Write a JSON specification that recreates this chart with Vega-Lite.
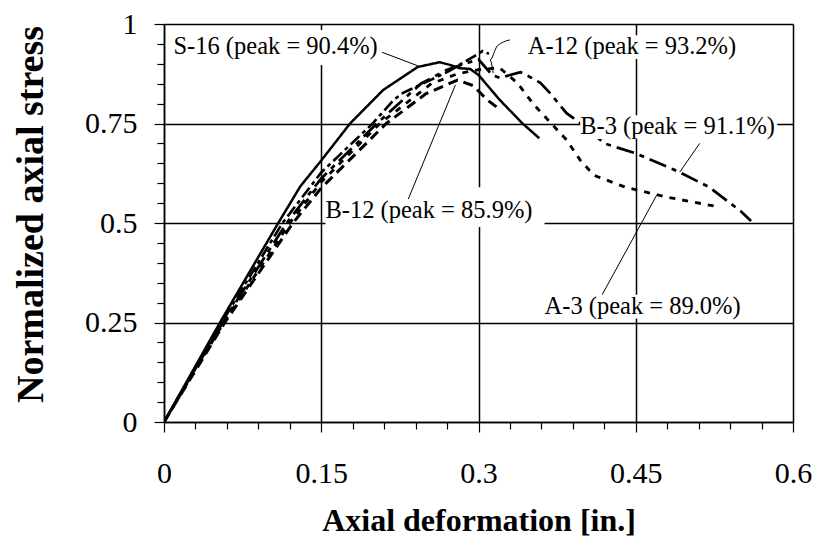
{
  "$schema": "https://vega.github.io/schema/vega-lite/v6.json",
  "autosize": {"type": "none"},
  "padding": {"left": 164, "top": 24, "right": 24, "bottom": 130},
  "width": 629,
  "height": 398,
  "background": "white",
  "config": {
    "view": {"stroke": null},
    "font": "Liberation Serif",
    "axis": {"domainColor": "black", "domainWidth": 1.5, "tickColor": "black", "tickWidth": 1.2, "gridColor": "black", "gridWidth": 1.5, "labelFont": "Liberation Serif", "labelFontSize": 30, "labelColor": "black", "titleFont": "Liberation Serif", "titleFontWeight": "bold", "titleColor": "black"}
  },
  "datasets": {
    "curves": [
      {"series": "S-16", "x": 0, "y": 0}, {"series": "S-16", "x": 0.0534, "y": 0.25}, {"series": "S-16", "x": 0.109, "y": 0.5}, {"series": "S-16", "x": 0.13, "y": 0.592}, {"series": "S-16", "x": 0.15, "y": 0.657}, {"series": "S-16", "x": 0.1775, "y": 0.75}, {"series": "S-16", "x": 0.209, "y": 0.834}, {"series": "S-16", "x": 0.242, "y": 0.892}, {"series": "S-16", "x": 0.263, "y": 0.904}, {"series": "S-16", "x": 0.273, "y": 0.897}, {"series": "S-16", "x": 0.282, "y": 0.889}, {"series": "S-16", "x": 0.292, "y": 0.887}, {"series": "S-16", "x": 0.30, "y": 0.872}, {"series": "S-16", "x": 0.32, "y": 0.81}, {"series": "S-16", "x": 0.342, "y": 0.75}, {"series": "S-16", "x": 0.358, "y": 0.713},
      {"series": "A-12", "x": 0, "y": 0}, {"series": "A-12", "x": 0.055, "y": 0.25}, {"series": "A-12", "x": 0.113, "y": 0.5}, {"series": "A-12", "x": 0.15, "y": 0.627}, {"series": "A-12", "x": 0.199, "y": 0.75}, {"series": "A-12", "x": 0.219, "y": 0.809}, {"series": "A-12", "x": 0.228, "y": 0.827}, {"series": "A-12", "x": 0.254, "y": 0.859}, {"series": "A-12", "x": 0.27, "y": 0.879}, {"series": "A-12", "x": 0.285, "y": 0.902}, {"series": "A-12", "x": 0.304, "y": 0.932}, {"series": "A-12", "x": 0.31, "y": 0.925},
      {"series": "B-3", "x": 0, "y": 0}, {"series": "B-3", "x": 0.056, "y": 0.25}, {"series": "B-3", "x": 0.117, "y": 0.5}, {"series": "B-3", "x": 0.15, "y": 0.612}, {"series": "B-3", "x": 0.203, "y": 0.75}, {"series": "B-3", "x": 0.245, "y": 0.85}, {"series": "B-3", "x": 0.27, "y": 0.885}, {"series": "B-3", "x": 0.29, "y": 0.903}, {"series": "B-3", "x": 0.30, "y": 0.911}, {"series": "B-3", "x": 0.313, "y": 0.872}, {"series": "B-3", "x": 0.321, "y": 0.864}, {"series": "B-3", "x": 0.33, "y": 0.872}, {"series": "B-3", "x": 0.34, "y": 0.879}, {"series": "B-3", "x": 0.349, "y": 0.867}, {"series": "B-3", "x": 0.359, "y": 0.852}, {"series": "B-3", "x": 0.368, "y": 0.827}, {"series": "B-3", "x": 0.384, "y": 0.776}, {"series": "B-3", "x": 0.40, "y": 0.745}, {"series": "B-3", "x": 0.42, "y": 0.70}, {"series": "B-3", "x": 0.45, "y": 0.675}, {"series": "B-3", "x": 0.49, "y": 0.63}, {"series": "B-3", "x": 0.52, "y": 0.59}, {"series": "B-3", "x": 0.55, "y": 0.53}, {"series": "B-3", "x": 0.56, "y": 0.505},
      {"series": "A-3", "x": 0, "y": 0}, {"series": "A-3", "x": 0.057, "y": 0.25}, {"series": "A-3", "x": 0.12, "y": 0.5}, {"series": "A-3", "x": 0.15, "y": 0.603}, {"series": "A-3", "x": 0.206, "y": 0.75}, {"series": "A-3", "x": 0.255, "y": 0.85}, {"series": "A-3", "x": 0.28, "y": 0.875}, {"series": "A-3", "x": 0.30, "y": 0.885}, {"series": "A-3", "x": 0.32, "y": 0.89}, {"series": "A-3", "x": 0.337, "y": 0.852}, {"series": "A-3", "x": 0.352, "y": 0.80}, {"series": "A-3", "x": 0.368, "y": 0.754}, {"series": "A-3", "x": 0.384, "y": 0.709}, {"series": "A-3", "x": 0.397, "y": 0.658}, {"series": "A-3", "x": 0.41, "y": 0.62}, {"series": "A-3", "x": 0.44, "y": 0.59}, {"series": "A-3", "x": 0.48, "y": 0.565}, {"series": "A-3", "x": 0.53, "y": 0.54},
      {"series": "B-12", "x": 0, "y": 0}, {"series": "B-12", "x": 0.058, "y": 0.25}, {"series": "B-12", "x": 0.123, "y": 0.5}, {"series": "B-12", "x": 0.15, "y": 0.588}, {"series": "B-12", "x": 0.212, "y": 0.75}, {"series": "B-12", "x": 0.25, "y": 0.825}, {"series": "B-12", "x": 0.28, "y": 0.859}, {"series": "B-12", "x": 0.295, "y": 0.845}, {"series": "B-12", "x": 0.308, "y": 0.81}, {"series": "B-12", "x": 0.318, "y": 0.79}
    ],
    "labels": [
      {"text": "S-16 (peak = 90.4%)", "x": 0.009, "x2": 0.205, "y": 0.942, "y2": 0.897, "y3": 0.985},
      {"text": "A-12 (peak = 93.2%)", "x": 0.347, "x2": 0.548, "y": 0.942, "y2": 0.912, "y3": 0.972},
      {"text": "B-3 (peak = 91.1%)", "x": 0.397, "x2": 0.585, "y": 0.741, "y2": 0.711, "y3": 0.771},
      {"text": "B-12 (peak = 85.9%)", "x": 0.154, "x2": 0.363, "y": 0.53, "y2": 0.49, "y3": 0.59},
      {"text": "A-3 (peak = 89.0%)", "x": 0.363, "x2": 0.553, "y": 0.29, "y2": 0.26, "y3": 0.32}
    ],
    "leaders": [
      {"id": "S-16", "o": 0, "x": 0.208, "y": 0.929}, {"id": "S-16", "o": 1, "x": 0.242, "y": 0.895},
      {"id": "A-12", "o": 0, "x": 0.33, "y": 0.96}, {"id": "A-12", "o": 1, "x": 0.318, "y": 0.945}, {"id": "A-12", "o": 2, "x": 0.311, "y": 0.91}, {"id": "A-12", "o": 3, "x": 0.314, "y": 0.877},
      {"id": "B-3", "o": 0, "x": 0.511, "y": 0.70}, {"id": "B-3", "o": 1, "x": 0.492, "y": 0.628},
      {"id": "B-12", "o": 0, "x": 0.233, "y": 0.56}, {"id": "B-12", "o": 1, "x": 0.278, "y": 0.847},
      {"id": "A-3", "o": 0, "x": 0.418, "y": 0.32}, {"id": "A-3", "o": 1, "x": 0.47, "y": 0.57}
    ]
  },
  "encoding": {
    "x": {"field": "x", "type": "quantitative", "scale": {"domain": [0, 0.6], "nice": false},
      "axis": {"title": "Axial deformation [in.]", "values": [0, 0.03, 0.06, 0.09, 0.12, 0.15, 0.18, 0.21, 0.24, 0.27, 0.3, 0.33, 0.36, 0.39, 0.42, 0.45, 0.48, 0.51, 0.54, 0.57, 0.6],
        "labelExpr": "abs(datum.value/0.15 - round(datum.value/0.15)) < 0.001 ? format(datum.value, '~g') : ''",
        "tickSize": {"condition": {"test": "abs(datum.value/0.15 - round(datum.value/0.15)) < 0.001", "value": 10}, "value": 7},
        "gridOpacity": {"condition": {"test": "abs(datum.value/0.15 - round(datum.value/0.15)) < 0.001", "value": 1}, "value": 0},
        "labelPadding": 26, "titleFontSize": 32, "titleBaseline": "alphabetic", "titleY": 108, "labelFlush": false, "labelOverlap": false}},
    "y": {"field": "y", "type": "quantitative", "scale": {"domain": [0, 1], "nice": false},
      "axis": {"title": "Normalized axial stress", "values": [0, 0.05, 0.1, 0.15, 0.2, 0.25, 0.3, 0.35, 0.4, 0.45, 0.5, 0.55, 0.6, 0.65, 0.7, 0.75, 0.8, 0.85, 0.9, 0.95, 1],
        "labelExpr": "abs(datum.value*4 - round(datum.value*4)) < 0.001 ? format(datum.value, '~g') : ''",
        "tickSize": {"condition": {"test": "abs(datum.value*4 - round(datum.value*4)) < 0.001", "value": 10}, "value": 7},
        "gridOpacity": {"condition": {"test": "abs(datum.value*4 - round(datum.value*4)) < 0.001", "value": 1}, "value": 0},
        "labelPadding": 17, "titleFontSize": 38, "titleBaseline": "alphabetic", "titleX": -122, "titleY": 190, "labelFlush": false, "labelOverlap": false}}
  },
  "layer": [
    {
      "data": {"name": "curves"},
      "mark": {"type": "line", "color": "black", "clip": true},
      "encoding": {
        "detail": {"field": "series"},
        "strokeDash": {"field": "series", "type": "nominal", "legend": null,
          "scale": {"domain": ["S-16", "A-12", "B-3", "A-3", "B-12"], "range": [[1, 0], [12, 4, 4, 4], [18, 6, 5, 6], [6, 7], [10, 6]]}},
        "strokeWidth": {"field": "series", "type": "nominal", "legend": null,
          "scale": {"domain": ["S-16", "A-12", "B-3", "A-3", "B-12"], "range": [2.5, 3, 2, 2.5, 1.2]}}
      }
    },
    {
      "data": {"name": "labels"},
      "mark": {"type": "rect", "color": "white"},
      "encoding": {
        "x2": {"field": "x2"},
        "y": {"field": "y2", "type": "quantitative"},
        "y2": {"field": "y3"}
      }
    },
    {
      "data": {"name": "labels"},
      "mark": {"type": "text", "align": "left", "baseline": "middle", "fontSize": 24.5, "font": "Liberation Serif", "color": "black"},
      "encoding": {
        "text": {"field": "text"}
      }
    },
    {
      "data": {"name": "leaders"},
      "mark": {"type": "line", "color": "black", "strokeWidth": 1, "interpolate": "monotone"},
      "encoding": {
        "detail": {"field": "id"},
        "order": {"field": "o"}
      }
    }
  ]
}
